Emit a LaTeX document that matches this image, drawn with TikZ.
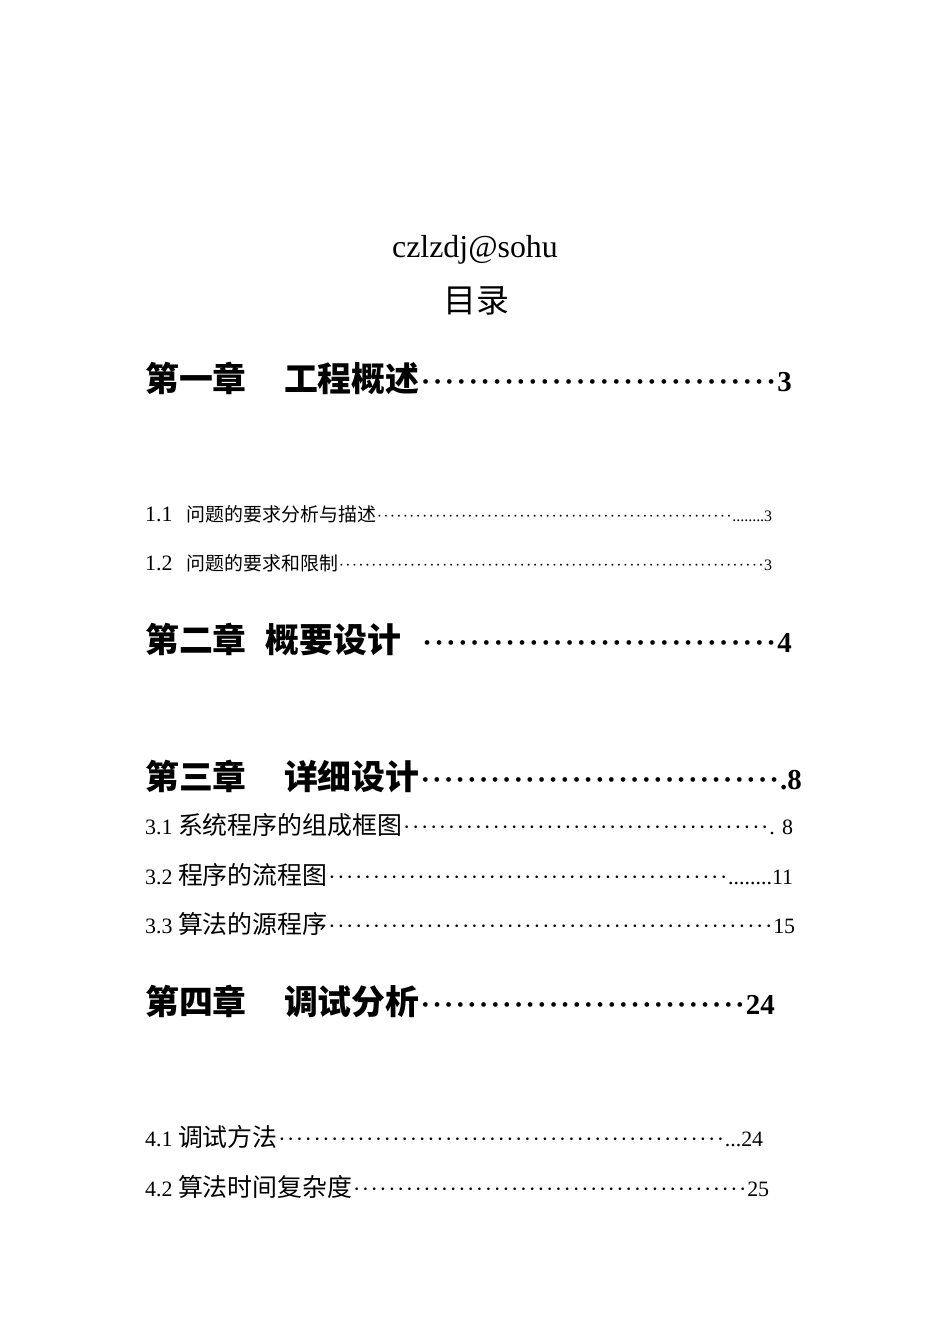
\documentclass[tikz,border=0pt]{standalone}
\usepackage{fontspec}
\setmainfont{Liberation Serif}
\newfontfamily\cjk{Noto Sans CJK SC}
\newcommand\tocline[3]{\hbox to #1{#2\xleaders\hbox to 0.4em{\hss·\hss}\hfill #3}}
\tikzset{lbl/.style={anchor=west,inner sep=0pt},ttl/.style={inner sep=0pt}}
\begin{document}
\begin{tikzpicture}[x=1bp,y=-1bp]
\useasboundingbox[fill=white] (0,0) rectangle (950,1344);
\node[ttl] (t1) at (475,250) {\fontsize{32}{32}\selectfont czlzdj@sohu};
\node[ttl] (t2) at (476,301) {\fontsize{33}{33}\selectfont\cjk 目录};
% chapters
\node[lbl] (c1) at (145,378) {\fontsize{29}{29}\selectfont\bfseries\tocline{647bp}{{\fontsize{34}{34}\selectfont\cjk 第一章\hspace{1.1em}工程概述}}{3}};
\node[lbl] (c2) at (145,639) {\fontsize{29}{29}\selectfont\bfseries\tocline{647bp}{{\fontsize{34}{34}\selectfont\cjk 第二章\hspace{0.55em}概要设计}\hspace{0.7em}}{4}};
\node[lbl] (c3) at (145,776) {\fontsize{29}{29}\selectfont\bfseries\tocline{657bp}{{\fontsize{34}{34}\selectfont\cjk 第三章\hspace{1.1em}详细设计}}{.8}};
\node[lbl] (c4) at (145,1001) {\fontsize{29}{29}\selectfont\bfseries\tocline{630bp}{{\fontsize{34}{34}\selectfont\cjk 第四章\hspace{1.1em}调试分析}}{24}};
% small entries
\node[lbl] (e11) at (145,514) {\fontsize{16}{16}\selectfont\tocline{627bp}{{\fontsize{22}{22}\selectfont 1.1}\hspace{0.9em}{\fontsize{19}{19}\selectfont\cjk 问题的要求分析与描述}}{........3}};
\node[lbl] (e12) at (145,563) {\fontsize{16}{16}\selectfont\tocline{627bp}{{\fontsize{22}{22}\selectfont 1.2}\hspace{0.9em}{\fontsize{19}{19}\selectfont\cjk 问题的要求和限制}}{3}};
% normal entries
\node[lbl] (e31) at (145,825) {\fontsize{22}{22}\selectfont\tocline{648bp}{3.1 {\fontsize{25}{25}\selectfont\cjk 系统程序的组成框图}}{. 8}};
\node[lbl] (e32) at (145,875) {\fontsize{22}{22}\selectfont\tocline{648bp}{3.2 {\fontsize{25}{25}\selectfont\cjk 程序的流程图}}{........11}};
\node[lbl] (e33) at (145,924) {\fontsize{22}{22}\selectfont\tocline{650bp}{3.3 {\fontsize{25}{25}\selectfont\cjk 算法的源程序}}{15}};
\node[lbl] (e41) at (145,1137) {\fontsize{22}{22}\selectfont\tocline{618bp}{4.1 {\fontsize{25}{25}\selectfont\cjk 调试方法}}{...24}};
\node[lbl] (e42) at (145,1187) {\fontsize{22}{22}\selectfont\tocline{624bp}{4.2 {\fontsize{25}{25}\selectfont\cjk 算法时间复杂度}}{25}};
\end{tikzpicture}
\end{document}
